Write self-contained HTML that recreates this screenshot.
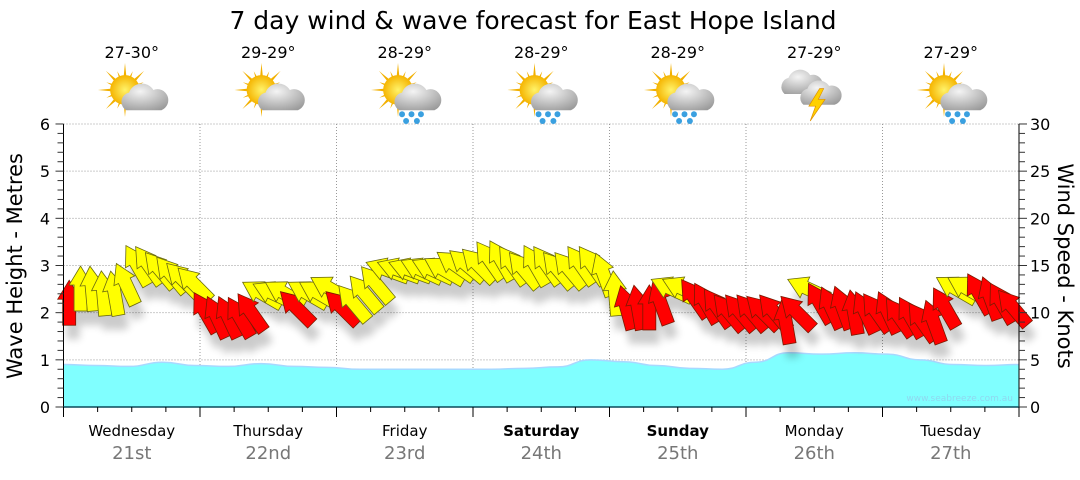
<!DOCTYPE html>
<html><head><meta charset="utf-8">
<style>
html,body{margin:0;padding:0;background:#fff;}
body{width:1080px;height:475px;overflow:hidden;font-family:"Liberation Sans","DejaVu Sans",sans-serif;}
svg text{font-family:"DejaVu Sans","Liberation Sans",sans-serif;}
</style></head>
<body>
<svg id="chart" width="1080" height="475" viewBox="0 0 1080 475" xmlns="http://www.w3.org/2000/svg">
<defs>
<filter id="sh" x="-50%" y="-50%" width="200%" height="200%"><feGaussianBlur stdDeviation="4"/></filter>
<radialGradient id="cloudG" cx="0.4" cy="0.3" r="0.8"><stop offset="0" stop-color="#f4f4f4"/><stop offset="1" stop-color="#9a9a9a"/></radialGradient>
<radialGradient id="sunG" cx="0.5" cy="0.5" r="0.5"><stop offset="0" stop-color="#fff36a"/><stop offset="1" stop-color="#f5b400"/></radialGradient>
</defs>
<text x="533" y="29" font-size="25" text-anchor="middle" fill="#000">7 day wind &amp; wave forecast for East Hope Island</text>
<g id="grid"></g>
<g id="wave"></g>
<g id="shadows" filter="url(#sh)" opacity="0.2"></g>
<g id="wind"></g>
<g id="axes"></g>
<g id="icons"></g>
<text transform="translate(22,266) rotate(-90)" font-size="21" text-anchor="middle">Wave Height - Metres</text>
<text transform="translate(1058,266) rotate(90)" font-size="21" text-anchor="middle">Wind Speed - Knots</text>
<text x="1013" y="401" font-size="9" text-anchor="end" fill="#8fd8f0">www.seabreeze.com.au</text>
</svg>
<script>
var days = ["Wednesday","Thursday","Friday","Saturday","Sunday","Monday","Tuesday"];
var dates = ["21st","22nd","23rd","24th","25th","26th","27th"];
var boldDays = [false,false,false,true,true,false,false];
var temps = ["27-30°","29-29°","28-29°","28-29°","28-29°","27-29°","27-29°"];
var iconTypes = ["cloud","cloud","rain","rain","rain","storm","rain"];
var waveTicks = [0,1,2,3,4,5,6];
var windTicks = [0,5,10,15,20,25,30];
// wave height, 6-hourly
var waveHeights = [0.9,0.88,0.86,0.95,0.88,0.86,0.92,0.86,0.84,0.8,0.8,0.8,0.8,0.8,0.82,0.85,1.0,0.96,0.88,0.82,0.8,0.95,1.15,1.12,1.15,1.12,1.0,0.9,0.88,0.9];
// wind speed (knots), 2-hourly
var windSpeeds = [11,12.5,12.5,12,12,13,15,15,14.5,14,13.5,13,
 10,9.5,9.5,9.5,10,12,12,12,10.5,12,12,12.5,
 10.5,11,12,13,14.5,14.5,14.5,14.5,14.5,14.5,15,15,
 15,15.5,15.5,15,14.5,15,15,14.5,14.5,15,15,14,
 12,10.5,10.5,10.5,11,12.5,12.5,11.5,11,10.5,10,10,
 10,10,10,9,10,12.5,11,10.5,10.5,10,10,10,
 10,9.5,9.5,9,9,10.5,12.5,12.5,12,11.5,11,10.5];
// arrow direction (degrees from up, negative = left)
var windDirs = [0,0,-5,-5,-10,-25,-30,-35,-40,-40,-45,-45,
 -30,-25,-25,-30,-35,-60,-65,-60,-45,-60,-60,-60,
 -45,-40,-40,-40,-70,-70,-70,-65,-65,-60,-55,-50,
 -45,-35,-30,-35,-40,-30,-35,-40,-40,-35,-35,-20,
 -5,-15,-10,0,-20,-65,-65,-35,-30,-35,-40,-40,
 -40,-45,-40,-10,-45,-65,-30,-25,-20,-10,-25,-35,
 -25,-35,-30,-35,-20,-30,-60,-60,-30,-20,-30,-40];
var windColors = ["R","Y","Y","Y","Y","Y","Y","Y","Y","Y","Y","Y",
 "R","R","R","R","R","Y","Y","Y","R","Y","Y","Y",
 "R","Y","Y","Y","Y","Y","Y","Y","Y","Y","Y","Y",
 "Y","Y","Y","Y","Y","Y","Y","Y","Y","Y","Y","Y",
 "Y","R","R","R","R","Y","Y","R","R","R","R","R",
 "R","R","R","R","R","Y","R","R","R","R","R","R",
 "R","R","R","R","R","R","Y","Y","R","R","R","R"];

var NS="http://www.w3.org/2000/svg";
var X0=63.5, DW=136.5, Y0=407, PX=47.17;
function xDay(d){return X0+d*DW;}
function yWave(m){return Y0-m*PX;}
function yWind(k){return Y0-k*PX/5;}
function mk(tag,attrs,parent){var e=document.createElementNS(NS,tag);for(var k in attrs)e.setAttribute(k,attrs[k]);parent.appendChild(e);return e;}
var grid=document.getElementById('grid'),axes=document.getElementById('axes');
var X1=xDay(7);
waveTicks.forEach(function(t){
  if(t>0){var l=mk('line',{x1:X0,x2:X1,y1:yWave(t),y2:yWave(t),stroke:'#999','stroke-dasharray':'1,2'},grid);
  
  }
  var tx=mk('text',{x:50,y:yWave(t)+6,'font-size':16,'text-anchor':'end'},axes);tx.textContent=t;
  
  
});
windTicks.forEach(function(t){
  var tx=mk('text',{x:1030,y:yWind(t)+6,'font-size':16},axes);tx.textContent=t;
  
  
});
for(var d=1;d<7;d++){var l=mk('line',{x1:xDay(d),x2:xDay(d),y1:124,y2:Y0,stroke:'#999','stroke-dasharray':'1,2'},grid);
  
  }
mk('line',{x1:X0,x2:X0,y1:124,y2:Y0,stroke:'#000'},axes);
mk('line',{x1:X1,x2:X1,y1:124,y2:Y0,stroke:'#000'},axes);
mk('line',{x1:X0,x2:X1,y1:Y0,y2:Y0,stroke:'#0a4a5a','stroke-width':1.5},axes);
for(var m=0;m<=30;m++){var yy=yWave(m*0.2);var len=(m%5==0)?8:6;
  mk('line',{x1:X0-len,x2:X0,y1:yy,y2:yy,stroke:'#333'},axes);
  mk('line',{x1:X1,x2:X1+len,y1:yy,y2:yy,stroke:'#333'},axes);}
for(var q=0;q<=28;q++){var xx=X0+q*DW/4;var big=q%4==0;
  mk('line',{x1:xx,x2:xx,y1:Y0,y2:Y0+(big?10:5),stroke:'#000'},axes);}
days.forEach(function(n,i){
  var cx=xDay(i)+DW/2;
  var t=mk('text',{x:cx,y:436,'font-size':15,'text-anchor':'middle','font-weight':boldDays[i]?'bold':'normal'},axes);t.textContent=n;
  
  
  var t2=mk('text',{x:cx,y:459,'font-size':18,'text-anchor':'middle',fill:'#777'},axes);t2.textContent=dates[i];
  
  
  var t3=mk('text',{x:cx,y:58,'font-size':16,'text-anchor':'middle'},document.getElementById('icons'));t3.textContent=temps[i];
  
  
});
(function(){
  var g=document.getElementById('wave');var n=waveHeights.length;var step=(X1-X0)/(n-1);
  var pts=waveHeights.map(function(v,i){return [X0+i*step,yWave(v)];});
  var d='M'+pts[0][0]+','+pts[0][1];
  for(var i=1;i<n;i++){var p0=pts[i-1],p1=pts[i];var mx=(p0[0]+p1[0])/2;d+=' C'+mx+','+p0[1]+' '+mx+','+p1[1]+' '+p1[0]+','+p1[1];}
  var a=mk('path',{d:d+' L'+X1+','+Y0+' L'+X0+','+Y0+'Z',fill:'#80ffff'},g);
  
  
  var l=mk('path',{d:d,fill:'none',stroke:'#a8d8ff','stroke-width':1.5},g);
  
  
})();
(function(){
  var g=document.getElementById('wind'),sg=document.getElementById('shadows');
  var n=windSpeeds.length;var step=(X1-X0)/n;
  var shape="0,-23 11.5,-4 6.5,-4 6.5,22 -6.5,22 -6.5,-4 -11.5,-4";
  for(var i=0;i<n;i++){
    var x=X0+(i+0.5)*step,y=yWind(windSpeeds[i]);
    mk('polygon',{points:shape,fill:'#000',transform:'translate('+(x+4)+','+(y+14)+') rotate('+windDirs[i]+')'},sg);
    var p=mk('polygon',{points:shape,fill:windColors[i]=='R'?'#ff0000':'#ffff00',stroke:windColors[i]=='R'?'#7a1a00':'#6a6a10','stroke-width':0.8,transform:'translate('+x+','+y+') rotate('+windDirs[i]+')'},g);
    
    
  }
})();
(function(){
  var g=document.getElementById('icons');
  iconTypes.forEach(function(t,i){
    var cx=xDay(i)+DW/2, cy=94;
    var ig=mk('g',{transform:'translate('+cx+','+cy+') scale(1.35)'},g);
    
    
    if(t!='storm'){
      for(var r=0;r<16;r++){var a=r*Math.PI/8;var L=(r%2)?15:20;
        mk('polygon',{points:(-5+2*Math.cos(a+1.57))+','+(-3+2*Math.sin(a+1.57))+' '+(-5-2*Math.cos(a+1.57))+','+(-3-2*Math.sin(a+1.57))+' '+(-5+L*Math.cos(a))+','+(-3+L*Math.sin(a)),fill:'#f2b000'},ig);}
      mk('circle',{cx:-5,cy:-3,r:11,fill:'url(#sunG)'},ig);
      mk('path',{d:'M-4,12 a7,7 0 0 1 2,-13 a10,10 0 0 1 18,-2 a8,8 0 0 1 6,15 Z',fill:'url(#cloudG)'},ig);
      if(t=='rain'){[[-2,15],[5,15],[12,15],[1,20],[9,20]].forEach(function(p){mk('circle',{cx:p[0],cy:p[1],r:2.2,fill:'#3aa0e0'},ig);});}
    } else {
      mk('path',{d:'M-22,0 a7,7 0 0 1 3,-12 a9,9 0 0 1 16,-2 a7,7 0 0 1 4,14 Z',fill:'url(#cloudG)'},ig);
      mk('path',{d:'M-8,8 a7,7 0 0 1 3,-12 a9,9 0 0 1 16,-2 a7,7 0 0 1 4,14 Z',fill:'url(#cloudG)'},ig);
      mk('polygon',{points:'4,-4 -4,9 1,9 -3,20 8,4 3,4 7,-4',fill:'#ffd000',stroke:'#e09000','stroke-width':0.5},ig);
    }
  });
})();
</script>
</body></html>
